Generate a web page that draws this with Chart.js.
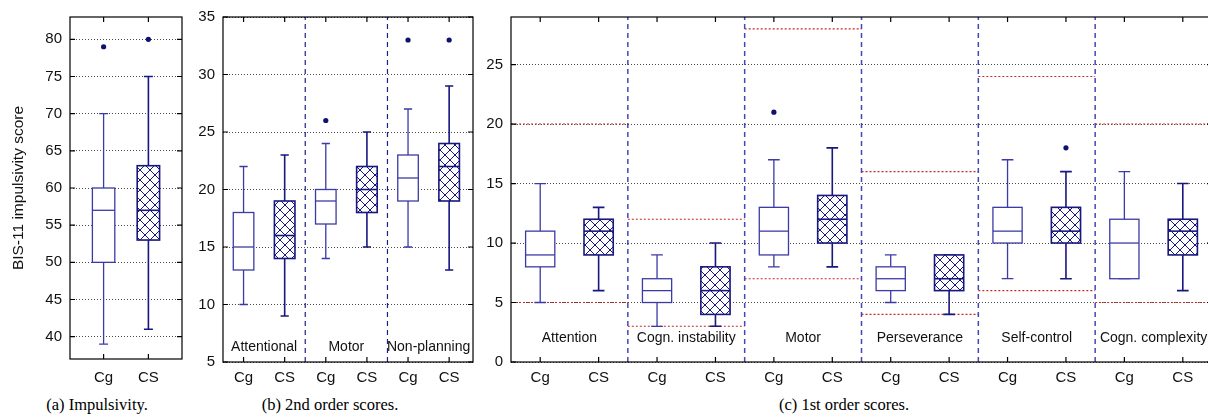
<!DOCTYPE html>
<html>
<head>
<meta charset="utf-8">
<script src="https://cdn.jsdelivr.net/npm/chart.js@4.4.0/dist/chart.umd.min.js"></script>
<style>
html, body { margin: 0; padding: 0; background: #fff; width: 1208px; height: 420px; overflow: hidden; position: relative; }
canvas { position: absolute; top: 0; }
.cap { position: absolute; top: 395px; font: 16.5px "Liberation Serif", serif; color: #000; white-space: nowrap; transform: translateX(-50%); }
</style>
</head>
<body>
<canvas id="chartA" width="190" height="390" style="left:0px"></canvas>
<canvas id="chartB" width="290" height="390" style="left:190px"></canvas>
<canvas id="chartC" width="740" height="390" style="left:480px"></canvas>
<div class="cap" style="left:97px">(a) Impulsivity.</div>
<div class="cap" style="left:330px">(b) 2nd order scores.</div>
<div class="cap" style="left:844px">(c) 1st order scores.</div>
<script>
const groups = ['Cg', 'CS'];

// (a) total BIS-11 score
const impLow = [39, 41];
const impQ1 = [50, 53];
const impMed = [57, 57];
const impQ3 = [60, 63];
const impHigh = [70, 75];
const impOut = [[79], [80]];
const impTicks = [40, 45, 50, 55, 60, 65, 70, 75, 80];

// (b) 2nd order scores, Cg/CS pairs per factor
const secondNames = ['Attentional', 'Motor', 'Non-planning'];
const secondLow = [10, 9, 14, 15, 15, 13];
const secondQ1 = [13, 14, 17, 18, 19, 19];
const secondMed = [15, 16, 19, 20, 21, 22];
const secondQ3 = [18, 19, 20, 22, 23, 24];
const secondHigh = [22, 23, 24, 25, 27, 29];
const secondOut = [[], [], [26], [], [33], [33]];
const secondTicks = [5, 10, 15, 20, 25, 30, 35];

// (c) 1st order scores, Cg/CS pairs per subscale
const firstNames = ['Attention', 'Cogn. instability', 'Motor', 'Perseverance', 'Self-control', 'Cogn. complexity'];
const firstLow = [5, 6, 3, 3, 8, 8, 5, 4, 7, 7, 7, 6];
const firstQ1 = [8, 9, 5, 4, 9, 10, 6, 6, 10, 10, 7, 9];
const firstMed = [9, 11, 6, 6, 11, 12, 7, 7, 11, 11, 10, 11];
const firstQ3 = [11, 12, 7, 8, 13, 14, 8, 9, 13, 13, 12, 12];
const firstHigh = [15, 13, 9, 10, 17, 18, 9, 9, 17, 16, 16, 15];
const firstOut = [[], [], [], [], [21], [], [], [], [], [18], [], []];
const firstMin = [5, 3, 7, 4, 6, 5];   // possible score range of each subscale
const firstMax = [20, 12, 28, 16, 24, 20];
const firstTicks = [0, 5, 10, 15, 20, 25];

const LIGHT = '#3b3ba6';
const DARK = '#17177f';
const FONT = 'Liberation Sans, Arial, sans-serif';

// cross hatch used for the CS boxes
const hatch = document.createElement('canvas');
hatch.width = 10; hatch.height = 10;
(() => {
    const g = hatch.getContext('2d');
    g.fillStyle = '#fff';
    g.fillRect(0, 0, 10, 10);
    g.strokeStyle = DARK;
    g.lineWidth = 1;
    g.beginPath();
    g.moveTo(-1, -1); g.lineTo(11, 11);
    g.moveTo(11, -1); g.lineTo(-1, 11);
    g.stroke();
})();

const framePlugin = {
    id: 'frame',
    afterDraw(chart) {
        const { ctx, chartArea: a, scales: { x, y } } = chart;
        ctx.save();
        ctx.strokeStyle = '#000';
        ctx.lineWidth = 1.2;
        ctx.strokeRect(a.left, a.top, a.right - a.left, a.bottom - a.top);
        ctx.beginPath();
        x.ticks.forEach(t => {
            const px = x.getPixelForValue(t.value);
            ctx.moveTo(px, a.bottom); ctx.lineTo(px, a.bottom - 5);
            ctx.moveTo(px, a.top); ctx.lineTo(px, a.top + 5);
        });
        y.ticks.forEach(t => {
            const py = y.getPixelForValue(t.value);
            ctx.moveTo(a.left, py); ctx.lineTo(a.left + 5, py);
            ctx.moveTo(a.right, py); ctx.lineTo(a.right - 5, py);
        });
        ctx.stroke();
        ctx.restore();
    }
};

function boxPlugin(s) {
    return {
        id: 'boxes',
        afterDatasetsDraw(chart) {
            const { ctx, scales: { x, y } } = chart;
            const pattern = ctx.createPattern(hatch, 'repeat');
            ctx.save();
            s.med.forEach((m, i) => {
                const pos = i + 1;
                const cs = i % 2 === 1;
                const xc = x.getPixelForValue(pos);
                const xl = x.getPixelForValue(pos - 0.25), xr = x.getPixelForValue(pos + 0.25);
                const cl = x.getPixelForValue(pos - 0.1), cr = x.getPixelForValue(pos + 0.1);
                const yLo = y.getPixelForValue(s.low[i]), yHi = y.getPixelForValue(s.high[i]);
                const yQ1 = y.getPixelForValue(s.q1[i]), yQ3 = y.getPixelForValue(s.q3[i]);
                const yMed = y.getPixelForValue(m);
                ctx.strokeStyle = cs ? DARK : LIGHT;
                ctx.lineWidth = cs ? 1.6 : 1.3;
                ctx.beginPath();
                ctx.moveTo(xc, yLo); ctx.lineTo(xc, yQ1);
                ctx.moveTo(xc, yQ3); ctx.lineTo(xc, yHi);
                ctx.moveTo(cl, yLo); ctx.lineTo(cr, yLo);
                ctx.moveTo(cl, yHi); ctx.lineTo(cr, yHi);
                ctx.stroke();
                ctx.fillStyle = cs ? pattern : '#fff';
                ctx.fillRect(xl, yQ3, xr - xl, yQ1 - yQ3);
                ctx.strokeRect(xl, yQ3, xr - xl, yQ1 - yQ3);
                ctx.beginPath();
                ctx.moveTo(xl, yMed); ctx.lineTo(xr, yMed);
                ctx.stroke();
            });
            if (s.names) {
                ctx.fillStyle = '#111';
                ctx.font = '14px ' + FONT;
                ctx.textAlign = 'center';
                ctx.textBaseline = 'middle';
                s.names.forEach((n, i) => {
                    ctx.fillText(n, x.getPixelForValue(2 * i + 1.5), y.getPixelForValue(s.labelY));
                });
            }
            ctx.restore();
        }
    };
}

function outlierPoints(out) {
    return out.flatMap((arr, i) => arr.map(v => ({ x: i + 1, y: v })));
}

function separatorPoints(n, lo, hi) {
    const pts = [];
    for (let k = 1; k < n; k++) {
        const sx = 2 * k + 0.5;
        pts.push({ x: sx, y: lo }, { x: sx, y: hi }, { x: sx, y: null });
    }
    return pts;
}

function makeChart(id, p) {
    const datasets = [{
        data: outlierPoints(p.stats.out),
        pointRadius: 2.6,
        pointBackgroundColor: '#10106e',
        pointBorderWidth: 0,
        order: 0
    }];
    if (p.sepColor) {
        datasets.push({
            data: separatorPoints(p.stats.med.length / 2, p.yMin, p.yMax),
            showLine: true,
            pointRadius: 0,
            borderColor: p.sepColor,
            borderWidth: p.sepWidth,
            borderDash: [5, 4],
            order: 2
        });
    }
    if (p.rangeMin) {
        const pts = [];
        p.rangeMin.forEach((lo, i) => {
            const a = 2 * i + 0.5, b = 2 * i + 2.5;
            pts.push({ x: a, y: lo }, { x: b, y: lo }, { x: b, y: null });
            pts.push({ x: a, y: p.rangeMax[i] }, { x: b, y: p.rangeMax[i] }, { x: b, y: null });
        });
        datasets.push({
            data: pts,
            showLine: true,
            pointRadius: 0,
            borderColor: '#c42a2a',
            borderWidth: 1.1,
            borderDash: [2, 2],
            order: 3
        });
    }
    return new Chart(document.getElementById(id), {
        type: 'scatter',
        data: { datasets },
        options: {
            responsive: false,
            animation: false,
            events: [],
            layout: { padding: { left: 0, right: p.padRight, top: p.padTop, bottom: 0 } },
            plugins: { legend: { display: false }, tooltip: { enabled: false } },
            scales: {
                x: {
                    type: 'linear',
                    min: p.xMin,
                    max: p.xMax,
                    afterBuildTicks: s => { s.ticks = p.stats.med.map((m, i) => ({ value: i + 1 })); },
                    afterFit: s => { s.height = p.xHeight; },
                    grid: { display: false, drawTicks: false },
                    border: { display: false },
                    ticks: {
                        callback: v => groups[(Math.round(v) - 1) % 2],
                        font: { family: FONT, size: 15 },
                        color: '#111',
                        padding: p.xPad,
                        autoSkip: false,
                        maxRotation: 0
                    }
                },
                y: {
                    min: p.yMin,
                    max: p.yMax,
                    afterBuildTicks: s => { s.ticks = p.yTicks.map(v => ({ value: v })); },
                    afterFit: s => { s.width = p.yWidth; },
                    grid: { color: '#4a4a4a', lineWidth: 1, drawTicks: false },
                    border: { display: false, dash: [1, 2] },
                    ticks: { font: { family: FONT, size: 15 }, color: '#111', padding: 8 },
                    title: p.yTitle ? {
                        display: true,
                        text: p.yTitle,
                        font: { family: FONT, size: 15.5 },
                        color: '#111',
                        padding: { top: 9, bottom: 0 }
                    } : { display: false }
                }
            }
        },
        plugins: [boxPlugin(p.stats), framePlugin]
    });
}

makeChart('chartA', {
    stats: { low: impLow, q1: impQ1, med: impMed, q3: impQ3, high: impHigh, out: impOut },
    xMin: 0.25, xMax: 2.75, yMin: 37, yMax: 83, yTicks: impTicks,
    padTop: 10, padRight: 8, yWidth: 70, xHeight: 31, xPad: 10,
    yTitle: 'BIS-11 impulsivity score'
});

makeChart('chartB', {
    stats: { low: secondLow, q1: secondQ1, med: secondMed, q3: secondQ3, high: secondHigh, out: secondOut,
             names: secondNames, labelY: 6.3 },
    xMin: 0.5, xMax: 6.58, yMin: 5, yMax: 35, yTicks: secondTicks,
    padTop: 14, padRight: 7, yWidth: 33, xHeight: 28, xPad: 7,
    sepColor: '#1e1e88', sepWidth: 1.2
});

makeChart('chartC', {
    stats: { low: firstLow, q1: firstQ1, med: firstMed, q3: firstQ3, high: firstHigh, out: firstOut,
             names: firstNames, labelY: 2 },
    xMin: 0.5, xMax: 12.5, yMin: 0, yMax: 29, yTicks: firstTicks,
    padTop: 10, padRight: 8, yWidth: 31, xHeight: 28, xPad: 7,
    sepColor: '#4646b4', sepWidth: 1.5,
    rangeMin: firstMin, rangeMax: firstMax
});
</script>
</body>
</html>
